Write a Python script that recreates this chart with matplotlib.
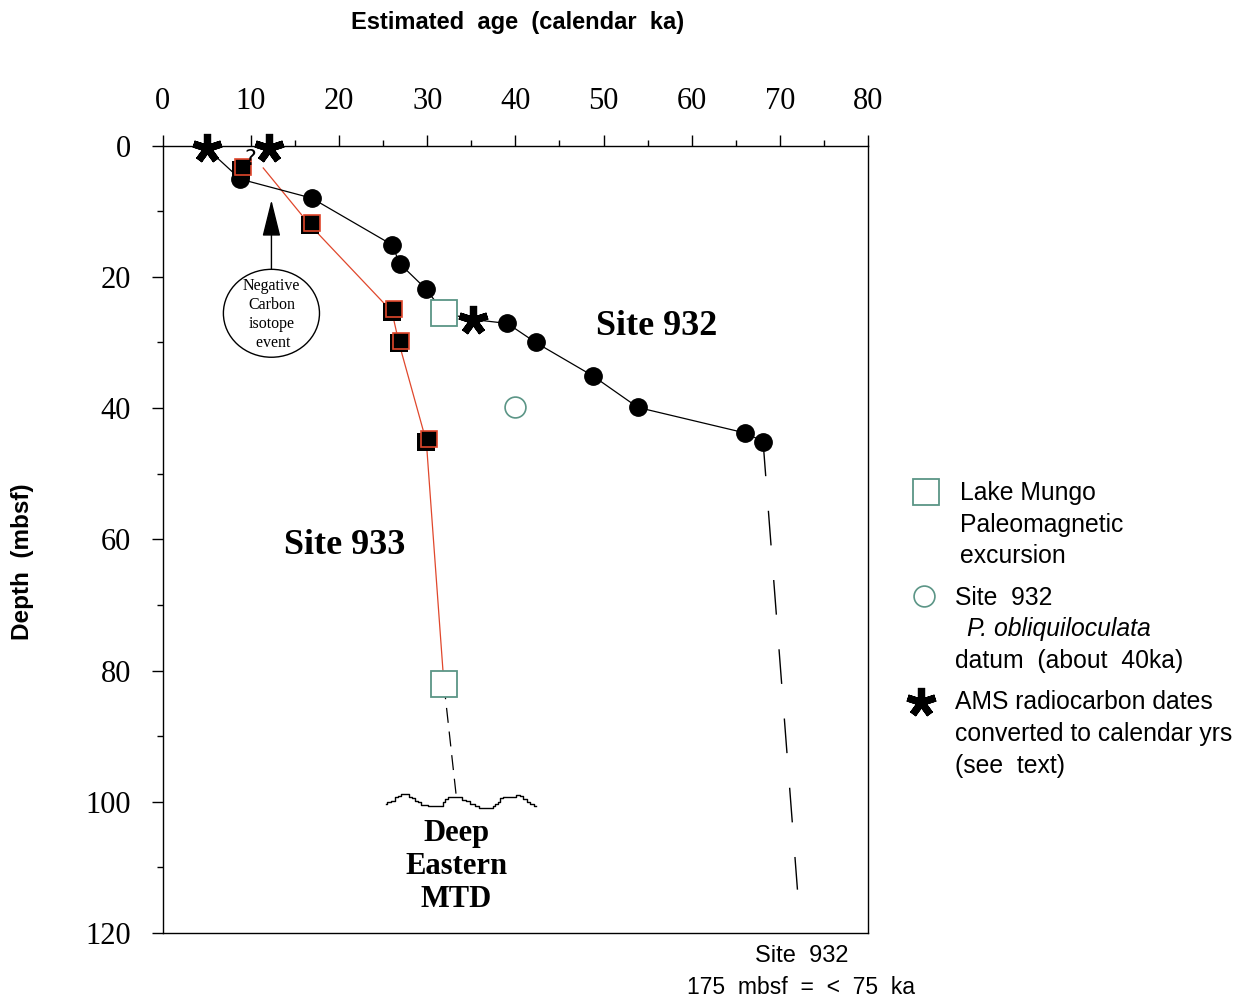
import matplotlib
matplotlib.use("Agg")
import matplotlib.pyplot as plt
import matplotlib.transforms as mtransforms
from matplotlib.patches import Ellipse
from matplotlib.lines import Line2D

# ---- data (age in calendar ka, depth in mbsf) ----
site932_age = [8.8, 16.9, 26.0, 26.9, 29.9, 39.1, 42.3, 48.8, 53.9, 66.1, 68.1]
site932_depth = [5.1, 8.0, 15.1, 18.0, 21.9, 27.1, 30.0, 35.1, 39.9, 43.8, 45.1]

# line through Site 932 points, incl. AMS dates and Lake Mungo excursion
site932_line_age = [5.0, 8.8, 16.9, 26.0, 26.9, 29.9, 31.9, 35.2, 39.1, 42.3, 48.8, 53.9, 66.1, 68.1]
site932_line_depth = [0.4, 5.1, 8.0, 15.1, 18.0, 21.9, 25.5, 26.5, 27.1, 30.0, 35.1, 39.9, 43.8, 45.1]
site932_ext_age = [68.1, 72.0]
site932_ext_depth = [45.1, 113.4]

site933_age = [8.85, 16.7, 26.0, 26.8, 29.9]
site933_depth = [3.7, 12.1, 25.3, 30.1, 45.1]
site933_line_age = [11.4, 16.7, 26.0, 26.8, 29.9, 31.9]
site933_line_depth = [3.4, 12.1, 25.3, 30.1, 45.1, 82.1]
site933_ext_age = [31.9, 33.3]
site933_ext_depth = [82.1, 99.2]

mungo_age = [31.9, 31.9]
mungo_depth = [25.5, 82.1]

oblq_age = [40.0]
oblq_depth = [39.9]

ams_age = [5.0, 12.0, 35.2]
ams_depth = [0.4, 0.4, 26.5]

# top of the Deep Eastern MTD (wavy contact)
mtd_age = [25.33, 25.59, 26.16, 26.54, 26.84, 27.29, 27.86, 28.05, 28.43, 28.81, 29.19, 29.38,
           30.70, 31.65, 31.83, 32.21, 32.59, 33.16, 33.72, 34.10, 34.67, 35.05, 35.80, 35.99,
           37.32, 37.50, 37.88, 38.07, 38.45, 38.83, 39.77, 40.34, 40.72, 41.10, 41.47, 41.86, 42.34]
mtd_depth = [100.35, 100.0, 99.84, 99.33, 99.08, 98.88, 98.88, 99.23, 99.48, 99.84, 100.09, 100.5,
             100.6, 100.6, 100.0, 99.59, 99.33, 99.23, 99.33, 99.74, 99.84, 100.35, 100.6, 100.9,
             100.9, 100.6, 100.35, 100.0, 99.48, 99.33, 99.23, 98.98, 99.08, 99.59, 100.0, 100.35, 100.6]

x_ticks = [0, 10, 20, 30, 40, 50, 60, 70, 80]
y_ticks = [0, 20, 40, 60, 80, 100, 120]

TEAL = "#5b9586"
RED = "#e0472c"
SERIF = "Liberation Serif"
SANS = "Liberation Sans"

ASTER = (5, 2, 0)   # five-armed asterisk marker

fig = plt.figure(figsize=(12.48, 9.99), dpi=100)
ax = fig.add_axes([0.1304, 0.0661, 0.5651, 0.7881])

ax.set_xlim(0, 80)
ax.set_ylim(120, 0)

# axis styling
ax.xaxis.tick_top()
ax.set_xticks(x_ticks)
ax.set_xticks(range(5, 80, 10), minor=True)
ax.set_yticks(y_ticks)
ax.set_yticks(range(10, 120, 20), minor=True)
ax.tick_params(axis="x", which="major", direction="out", length=8, width=1, pad=13)
ax.tick_params(axis="x", which="minor", direction="out", length=4, width=1)
ax.tick_params(axis="y", which="major", direction="out", length=8, width=1, pad=15)
ax.tick_params(axis="y", which="minor", direction="out", length=4, width=1)
for lab in ax.get_xticklabels() + ax.get_yticklabels():
    lab.set_fontfamily(SERIF)
    lab.set_fontsize(22)
for s in ax.spines.values():
    s.set_linewidth(1.0)

# ---- Site 933 (red) ----
ax.plot(site933_line_age, site933_line_depth, color=RED, lw=0.9, zorder=2)
l = ax.plot(site933_ext_age, site933_ext_depth, color="black", lw=0.9, zorder=2)[0]
l.set_dashes((12, 7))
ax.plot(site933_age, site933_depth, "s", ms=12.5, mfc="black", mec="black", mew=0, zorder=4)
shifted = mtransforms.offset_copy(ax.transData, fig=fig, x=2.5, y=2.5, units="dots")
ax.plot(site933_age, site933_depth, "s", ms=11.5, mfc="black", mec=RED, mew=1.2,
        transform=shifted, zorder=5)

# ---- Site 932 (black) ----
ax.plot(site932_line_age, site932_line_depth, color="black", lw=0.9, zorder=2)
l = ax.plot(site932_ext_age, site932_ext_depth, color="black", lw=1.0, zorder=2)[0]
l.set_dashes((25, 25))
ax.plot(site932_age, site932_depth, "o", ms=12.5, color="black", zorder=4)

# Lake Mungo excursion + P. obliquiloculata datum
ax.plot(mungo_age, mungo_depth, "s", ms=19, mfc="white", mec=TEAL, mew=1.3, zorder=6)
ax.plot(oblq_age, oblq_depth, "o", ms=15, mfc="white", mec=TEAL, mew=1.2, zorder=6)

# AMS dates
ax.plot(ams_age, ams_depth, ls="none", marker=ASTER, ms=21, mec="black", mew=5.2,
        clip_on=False, zorder=7)

# MTD contact
ax.plot(mtd_age, mtd_depth, color="black", lw=1.0, drawstyle="steps-mid", zorder=3)

# carbon isotope event
ax.add_patch(Ellipse((12.33, 25.55), width=10.9, height=13.4, fc="white", ec="black", lw=1.0, zorder=3))
ax.text(12.33, 25.7, "Negative\nCarbon\nisotope\n event", ha="center", va="center",
        family=SERIF, fontsize=11.5, linespacing=1.24, zorder=4)
ax.annotate("", xy=(12.33, 8.3), xytext=(12.33, 18.85),
            arrowprops=dict(arrowstyle="-|>,head_length=2.3,head_width=0.57",
                            lw=1.0, color="black", shrinkA=0, shrinkB=0), zorder=4)
ax.text(9.95, 2.0, "?", ha="center", va="center", family="DejaVu Sans", fontsize=16,
        zorder=8, clip_on=False)

# labels inside the plot
ax.text(55.98, 27.6, "Site 932", ha="center", va="center", family=SERIF,
        fontweight="bold", fontsize=26)
ax.text(20.68, 61.0, "Site 933", ha="center", va="center", family=SERIF,
        fontweight="bold", fontsize=26)
ax.text(33.27, 109.8, "Deep\nEastern\nMTD", ha="center", va="center", family=SERIF,
        fontweight="bold", fontsize=22, linespacing=1.18)

# axis titles
fig.text(518 / 1248, 1 - 23 / 999, "Estimated  age  (calendar  ka)", ha="center", va="center",
         family=SANS, fontweight="bold", fontsize=17)
fig.text(23 / 1248, 1 - 562 / 999, "Depth  (mbsf)", ha="center", va="center", rotation=90,
         family=SANS, fontweight="bold", fontsize=17.5)

# bottom note
fig.text(802 / 1248, 1 - 956 / 999, "Site  932", ha="center", va="center", family=SANS, fontsize=17)
fig.text(801 / 1248, 1 - 988 / 999, "175  mbsf  =  <  75  ka", ha="center", va="center",
         family=SANS, fontsize=16.5)

# ---- legend (drawn by hand, on the right) ----
def fpos(px, py):
    return px / 1248, 1 - py / 999

fig.add_artist(Line2D([926 / 1248], [1 - 492 / 999], marker="s", ms=19, mfc="white", mec=TEAL,
                      mew=1.3, transform=fig.transFigure))
fig.add_artist(Line2D([924 / 1248], [1 - 596 / 999], marker="o", ms=15, mfc="white", mec=TEAL,
                      mew=1.2, transform=fig.transFigure))
fig.add_artist(Line2D([921 / 1248], [1 - 702 / 999], marker=ASTER, ms=21, mec="black",
                      mew=5.2, transform=fig.transFigure))

legend_lines = [
    (960, 493, "Lake Mungo", "normal"),
    (960, 525, "Paleomagnetic", "normal"),
    (960, 556, "excursion", "normal"),
    (955, 598, "Site  932", "normal"),
    (967, 629, "P. obliquiloculata", "italic"),
    (955, 661, "datum  (about  40ka)", "normal"),
    (955, 702, "AMS radiocarbon dates", "normal"),
    (955, 734, "converted to calendar yrs", "normal"),
    (955, 766, "(see  text)", "normal"),
]
for px, py, txt, style in legend_lines:
    x, y = fpos(px, py)
    fig.text(x, y, txt, ha="left", va="center", family=SANS, fontsize=17.8, style=style)

fig.savefig("out.png", dpi=100)
